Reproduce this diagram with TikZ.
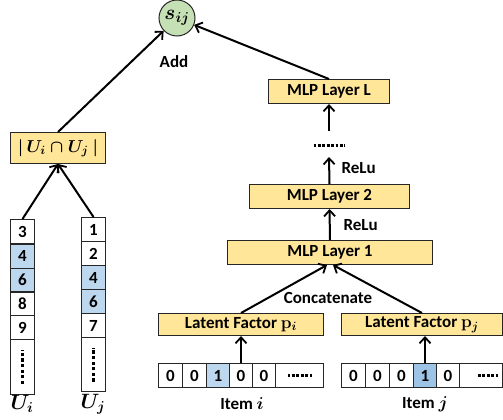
\documentclass[tikz,border=0pt]{standalone}
\usepackage{fontspec}
\setmainfont{Carlito}
\usetikzlibrary{arrows.meta}
\definecolor{ybox}{HTML}{FFE699}
\definecolor{gcirc}{HTML}{C5E0B4}
\definecolor{lblue}{HTML}{BDD7EE}
\definecolor{mblue}{HTML}{9DC3E6}
\begin{document}
\begin{tikzpicture}[x=1pt,y=-1pt,
  every node/.style={font=\fontsize{17}{19}\selectfont\bfseries\boldmath},
  mathbig/.style={font=\fontsize{20}{22}\selectfont\bfseries\boldmath},
  mathmid/.style={font=\fontsize{18}{20}\selectfont\bfseries\boldmath},
  box/.style={draw=black!85, fill=ybox, inner sep=0pt, line width=1pt, anchor=north west},
  cell/.style={draw=black!85, inner sep=0pt, line width=1pt, anchor=north west, minimum height=24pt},
  arr/.style={-{Straight Barb[length=6pt,width=11pt,line width=1.8pt]}, line width=2pt},
  hdots/.style={dash pattern=on 2.8pt off 1.6pt, line width=3pt},
  vdots/.style={dash pattern=on 3.2pt off 2.4pt, line width=3.6pt},
  ]
\useasboundingbox (0,0) rectangle (503,420);

% output circle
\node[circle, draw=black!85, fill=gcirc, line width=1pt, minimum size=36pt, inner sep=0pt, mathbig] (sij) at (177,18) {$s_{ij}$};
\node (add) at (174,62) {Add};

% intersection box
\node[box, minimum width=95pt, minimum height=31pt, mathmid] (inter) at (10,132) {$|\,U_i \cap U_j\ |$};

% U_i column
\node[cell, minimum width=24pt] (ui1) at (10,219) {3};
\node[cell, minimum width=24pt, fill=lblue] (ui2) at (10,243.5) {4};
\node[cell, minimum width=24pt, fill=lblue] (ui3) at (10,267.5) {6};
\node[cell, minimum width=24pt] (ui4) at (10,291) {8};
\node[cell, minimum width=24pt] (ui5) at (10,315) {9};
\node[cell, minimum width=24pt, minimum height=55pt] (ui6) at (10,339) {};
\draw[vdots] ([yshift=-17pt]ui6.center) -- ([yshift=17pt]ui6.center);
\node[mathbig] (uil) at (22,404) {$U_i$};

% U_j column
\node[cell, minimum width=24pt] (uj1) at (81,217) {1};
\node[cell, minimum width=24pt] (uj2) at (81,241) {2};
\node[cell, minimum width=24pt, fill=lblue] (uj3) at (81,265) {4};
\node[cell, minimum width=24pt, fill=lblue] (uj4) at (81,289) {6};
\node[cell, minimum width=24pt] (uj5) at (81,313) {7};
\node[cell, minimum width=24pt, minimum height=54pt] (uj6) at (81,337) {};
\draw[vdots] ([yshift=-17pt]uj6.center) -- ([yshift=17pt]uj6.center);
\node[mathbig] (ujl) at (93,404) {$U_j$};

% MLP tower
\node[box, minimum width=121pt, minimum height=24pt] (mlpL) at (268,79) {MLP Layer L};
\node[minimum width=33pt, minimum height=8pt, inner sep=0pt] (dots) at (329,145) {};
\draw[hdots] ([xshift=-15.5pt]dots.center) -- ([xshift=16pt]dots.center);
\coordinate (dtop) at (329,131);
\coordinate (dbot) at (329,157);
\node[box, minimum width=160pt, minimum height=24pt] (mlp2) at (249,184) {MLP Layer 2};
\node[box, minimum width=205pt, minimum height=24pt] (mlp1) at (227,240) {MLP Layer 1};
\node[anchor=west] (relu1) at (338,168) {ReLu};
\node[anchor=west] (relu2) at (340,225) {ReLu};
\node (concat) at (328,298) {Concatenate};

% latent factors
\node[box, minimum width=165pt, minimum height=22pt] (lfi) at (158,313) {Latent Factor $\mathbf{p}_i$};
\node[box, minimum width=161pt, minimum height=22pt] (lfj) at (341,313) {Latent Factor $\mathbf{p}_j$};

% item i vector
\node[cell, minimum width=24pt] (vi1) at (158,363) {0};
\node[cell, minimum width=24pt] (vi2) at (182,363) {0};
\node[cell, minimum width=23pt, fill=lblue] (vi3) at (206,363) {1};
\node[cell, minimum width=23pt] (vi4) at (229,363) {0};
\node[cell, minimum width=23pt] (vi5) at (252,363) {0};
\node[cell, minimum width=48pt] (vi6) at (275,363) {};
\draw[hdots] ([xshift=-12pt]vi6.center) -- ([xshift=13pt]vi6.center);
\node (itemi) at (242,404) {Item $i$};

% item j vector
\node[cell, minimum width=24pt] (vj1) at (341,363) {0};
\node[cell, minimum width=24pt] (vj2) at (365,363) {0};
\node[cell, minimum width=24pt] (vj3) at (389,363) {0};
\node[cell, minimum width=23pt, fill=mblue] (vj4) at (413,363) {1};
\node[cell, minimum width=23pt] (vj5) at (436,363) {0};
\node[cell, minimum width=43pt] (vj6) at (459,363) {};
\draw[hdots] ([xshift=-3pt]vj6.center) -- ([xshift=17pt]vj6.center);
\node (itemj) at (425,404) {Item $j$};

% connectors
\draw[arr] (inter.north) -- (sij);
\draw[arr] (mlpL.north) -- (sij);
\draw[arr] (ui1.north) -- (inter.south);
\draw[arr] (uj1.north) -- (inter.south);
\draw[arr] (dtop) -- (mlpL.south);
\draw[arr] (mlp2.north) -- (dbot);
\draw[arr] (mlp1.north) -- (mlp2.south);
\draw[arr] (lfi.north) -- ([xshift=-3pt]mlp1.south);
\draw[arr] (lfj.north) -- ([xshift=3pt]mlp1.south);
\draw[arr] (lfi.south |- vi1.north) -- (lfi.south);
\draw[arr] (vj4.north) -- (vj4.north |- lfj.south);
\end{tikzpicture}
\end{document}
